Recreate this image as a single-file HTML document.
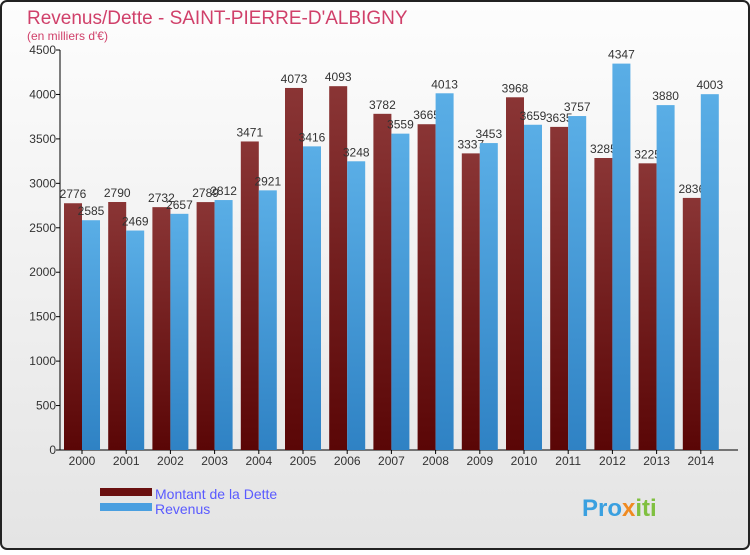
<!DOCTYPE html>
<html><head><meta charset="utf-8"><style>
body{margin:0;width:750px;height:550px;overflow:hidden;font-family:"Liberation Sans",sans-serif}
</style></head><body>
<svg id="c" width="750" height="550" xmlns="http://www.w3.org/2000/svg">
<defs>
<linearGradient id="bg" x1="0" y1="0" x2="0" y2="1"><stop offset="0" stop-color="#fdfdfd"/><stop offset="1" stop-color="#e4e4e4"/></linearGradient>
<linearGradient id="gd" x1="0" y1="0" x2="0" y2="1"><stop offset="0" stop-color="#8a3535"/><stop offset="1" stop-color="#5a0606"/></linearGradient>
<linearGradient id="gr" x1="0" y1="0" x2="0" y2="1"><stop offset="0" stop-color="#5aaee6"/><stop offset="1" stop-color="#2f82c4"/></linearGradient>
</defs>
<rect x="1" y="1" width="748" height="548" rx="6" fill="url(#bg)" stroke="#222" stroke-width="2"/>
<text x="27" y="24" font-size="19" fill="#d0406a">Revenus/Dette - SAINT-PIERRE-D'ALBIGNY</text>
<text x="27" y="40" font-size="12" fill="#d0406a">(en milliers d'€)</text>
<g id="axes"></g><g id="bars"></g>
<rect x="100" y="488" width="52" height="8" fill="#6a1010"/>
<rect x="100" y="503" width="52" height="8" fill="#4a9fe0"/>
<text x="155" y="499" font-size="14" fill="#5a5aff">Montant de la Dette</text>
<text x="155" y="514" font-size="14" fill="#5a5aff">Revenus</text>
<text x="582" y="516" font-size="24" font-weight="bold" fill="#3aa0e0">Pro<tspan fill="#f08a20">x</tspan><tspan fill="#80c040">iti</tspan></text>
</svg>
<script>
const years=["2000","2001","2002","2003","2004","2005","2006","2007","2008","2009","2010","2011","2012","2013","2014"];
const dette=[2776,2790,2732,2789,3471,4073,4093,3782,3665,3337,3968,3635,3285,3225,2836];
const revenus=[2585,2469,2657,2812,2921,3416,3248,3559,4013,3453,3659,3757,4347,3880,4003];
const yTicks=[0,500,1000,1500,2000,2500,3000,3500,4000,4500];
const NS="http://www.w3.org/2000/svg";
const x0=60,step=44.2,y0=450,yTop=50,vmax=4500;
const y=v=>y0-(v/vmax)*(y0-yTop);
const gx=i=>x0+4+i*step;
function mk(t,a,p){const e=document.createElementNS(NS,t);for(const k in a)e.setAttribute(k,a[k]);p.appendChild(e);return e;}
const ax=document.getElementById('axes'),bg=document.getElementById('bars');
const yl=mk('line',{x1:x0,y1:yTop,x2:x0,y2:y0,stroke:'#000'},ax);


const xl=mk('line',{x1:x0,y1:y0,x2:738,y2:y0,stroke:'#000'},ax);


yTicks.forEach(v=>{
 mk('line',{x1:x0-4,y1:y(v),x2:x0,y2:y(v),stroke:'#000'},ax);
 const t=mk('text',{x:x0-4,y:y(v)+4,'font-size':12,'text-anchor':'end',fill:'#333'},ax);t.textContent=v;
 
 
});
years.forEach((yr,i)=>{
 const c=gx(i)+18;
 mk('line',{x1:c,y1:y0,x2:c,y2:y0+4,stroke:'#000'},ax);
 const t=mk('text',{x:c,y:y0+15,'font-size':12,'text-anchor':'middle',fill:'#333'},ax);t.textContent=yr;
 
 
 const b1=mk('rect',{x:gx(i),y:y(dette[i]),width:18,height:y0-y(dette[i]),fill:'url(#gd)'},bg);
 
 
 const l1=mk('text',{x:gx(i)+9,y:y(dette[i])-5,'font-size':12,'text-anchor':'middle',fill:'#333'},bg);l1.textContent=dette[i];
 
 
 const b2=mk('rect',{x:gx(i)+18,y:y(revenus[i]),width:18,height:y0-y(revenus[i]),fill:'url(#gr)'},bg);
 
 
 const l2=mk('text',{x:gx(i)+27,y:y(revenus[i])-5,'font-size':12,'text-anchor':'middle',fill:'#333'},bg);l2.textContent=revenus[i];
 
 
});
</script>
</body></html>
